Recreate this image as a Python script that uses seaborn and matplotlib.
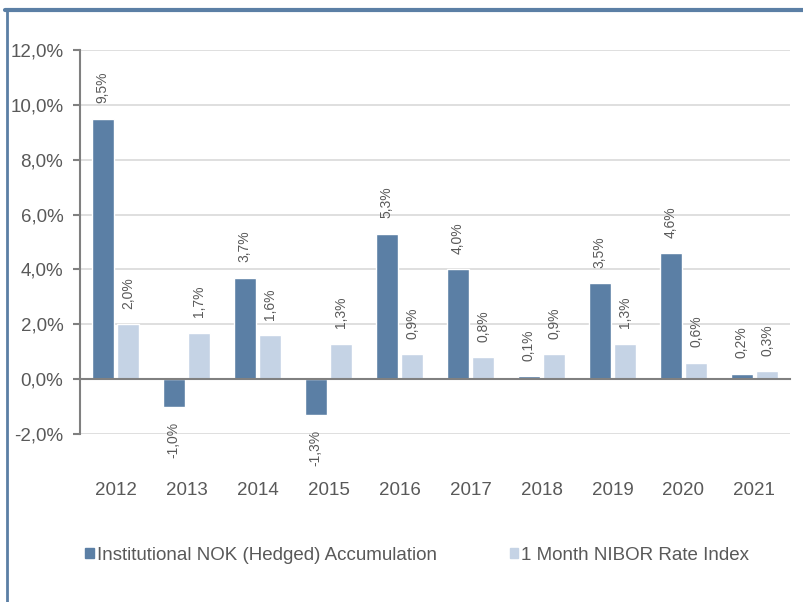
import matplotlib
matplotlib.use("Agg")
import matplotlib.pyplot as plt
from matplotlib.lines import Line2D
from matplotlib.ticker import FixedLocator, FuncFormatter
import pandas as pd
import seaborn as sns

years = ["2012", "2013", "2014", "2015", "2016", "2017", "2018", "2019", "2020", "2021"]
fund = [9.5, -1.0, 3.7, -1.3, 5.3, 4.0, 0.1, 3.5, 4.6, 0.2]
nibor = [2.0, 1.7, 1.6, 1.3, 0.9, 0.8, 0.9, 1.3, 0.6, 0.3]
series_names = ["Institutional NOK (Hedged) Accumulation", "1 Month NIBOR Rate Index"]

DARK = "#5b7fa5"
LIGHT = "#c5d3e5"
GREY_TXT = "#595959"
GREY_AX = "#808080"

df = pd.DataFrame({
    "year": years * 2,
    "value": fund + nibor,
    "series": [series_names[0]] * len(years) + [series_names[1]] * len(years),
})

sns.set_theme(style="white")
plt.rcParams["font.family"] = ["Liberation Sans", "DejaVu Sans"]

fig = plt.figure(figsize=(8.04, 6.02), dpi=100)
ax = fig.add_axes([0.0995, 0.279, 0.883, 0.638])

sns.barplot(data=df, x="year", y="value", hue="series",
            palette=[DARK, LIGHT], width=0.72, gap=0.15,
            saturation=1, legend=False, ax=ax)

ax.set_xlim(-0.5, len(years) - 0.5)
ax.set_ylim(-2, 12)
ax.set_yticks(range(-2, 13, 2))
ax.yaxis.set_major_formatter(FuncFormatter(lambda v, _: f"{v:.1f}%".replace(".", ",")))
ax.yaxis.grid(True, color="#d9d9d9", linewidth=1.2)
ax.set_axisbelow(True)
ax.set_xlabel("")
ax.set_ylabel("")

for side in ["top", "right"]:
    ax.spines[side].set_visible(False)
ax.spines["left"].set_color(GREY_AX)
ax.spines["left"].set_linewidth(1.5)
ax.spines["bottom"].set_position(("data", 0))
ax.spines["bottom"].set_color(GREY_AX)
ax.spines["bottom"].set_linewidth(1.5)

ax.xaxis.set_minor_locator(FixedLocator([i + 0.5 for i in range(len(years))]))
ax.tick_params(axis="x", which="major", length=0, pad=74, labelsize=13.5, labelcolor=GREY_TXT)
ax.tick_params(axis="x", which="minor", length=5, width=1.5, color=GREY_AX, direction="out")
ax.tick_params(axis="y", which="major", length=5, width=1.5, color=GREY_AX, direction="out",
               left=True, labelsize=13.5, labelcolor=GREY_TXT, pad=7)

for cont, vals in zip(ax.containers, [fund, nibor]):
    ax.bar_label(cont, labels=[f"{v:.1f}%".replace(".", ",") for v in vals],
                 rotation=90, padding=11, fontsize=10, color=GREY_TXT)

handles = [plt.Rectangle((0, 0), 1, 1, color=c) for c in (DARK, LIGHT)]
fig.legend(handles, series_names, loc="center left", bbox_to_anchor=(0.097, 0.078),
           ncol=2, frameon=False, fontsize=13.5, handlelength=0.45, handleheight=0.45,
           handletextpad=0.15, columnspacing=3.9, labelcolor=GREY_TXT, borderaxespad=0)

# frame lines of the panel
fig.add_artist(Line2D([5 / 804, 1], [1 - 9.5 / 602] * 2, color=DARK, linewidth=3,
                      transform=fig.transFigure))
fig.add_artist(Line2D([7 / 804] * 2, [0, 1 - 9.5 / 602], color=DARK, linewidth=2,
                      transform=fig.transFigure))

fig.savefig("out.png", dpi=100)
